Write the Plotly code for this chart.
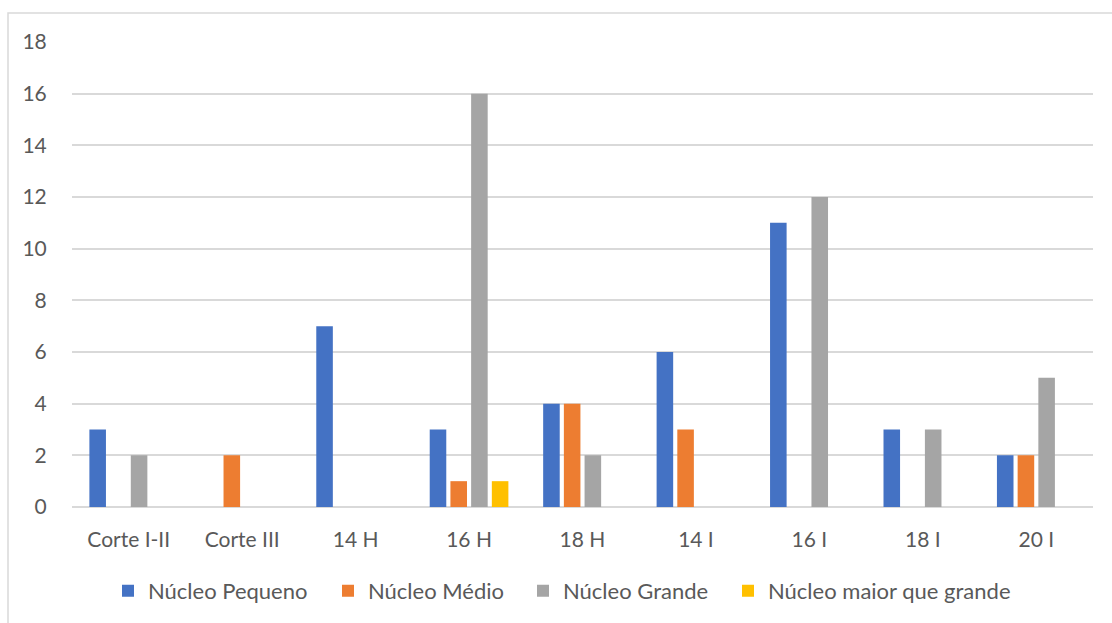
import plotly.graph_objects as go

# Categories and counts per nucleus size
categorias = ["Corte I-II", "Corte III", "14 H", "16 H", "18 H", "14 I", "16 I", "18 I", "20 I"]
nucleo_pequeno = [3, 0, 7, 3, 4, 6, 11, 3, 2]
nucleo_medio = [0, 2, 0, 1, 4, 3, 0, 0, 2]
nucleo_grande = [2, 0, 0, 16, 2, 0, 12, 3, 5]
nucleo_maior = [0, 0, 0, 1, 0, 0, 0, 0, 0]
y_ticks = [0, 2, 4, 6, 8, 10, 12, 14, 16, 18]

series = [
    ("Núcleo Pequeno", nucleo_pequeno, "#4472C4"),
    ("Núcleo Médio", nucleo_medio, "#ED7D31"),
    ("Núcleo Grande", nucleo_grande, "#A5A5A5"),
    ("Núcleo maior que grande", nucleo_maior, "#FFC000"),
]

W, H = 1112, 623
ml, mr, mt, mb = 72, 19, 42, 115
pw, ph = W - ml - mr, H - mt - mb

# Left edge (px) of each legend entry along the bottom row
legend_left_px = [108, 328, 523, 728]

fig = go.Figure()
legend_layouts = {}
for i, ((nome, valores, cor), lx) in enumerate(zip(series, legend_left_px)):
    key = "legend" if i == 0 else f"legend{i + 1}"
    fig.add_trace(go.Bar(
        name=nome, x=categorias, y=valores, legend=key,
        marker=dict(color=cor, line=dict(width=0)),
    ))
    legend_layouts[key] = dict(
        orientation="h", x=(lx - ml) / pw, xanchor="left",
        y=-0.178, yanchor="middle",
        font=dict(size=22, color="#595959"), itemwidth=30,
        bgcolor="rgba(0,0,0,0)",
    )

fig.update_layout(
    width=W, height=H,
    margin=dict(l=ml, r=mr, t=mt, b=mb),
    paper_bgcolor="white", plot_bgcolor="white",
    barmode="group", bargap=0.27, bargroupgap=0.2,
    font=dict(family="Lato, 'Open Sans', sans-serif", size=21, color="#595959"),
    showlegend=True,
    xaxis=dict(showgrid=False, showline=False, ticks="outside", ticklen=14,
               tickcolor="rgba(0,0,0,0)", tickfont=dict(size=21)),
    yaxis=dict(
        range=[0, 18], tickvals=y_ticks, showgrid=True, gridcolor="#D9D9D9",
        gridwidth=1.5, zeroline=True, zerolinecolor="#D9D9D9", zerolinewidth=1.5,
        showline=False, ticks="outside", ticklen=20, tickcolor="rgba(0,0,0,0)",
        tickfont=dict(size=21),
    ),
    **legend_layouts,
)

# Chart area border
fig.add_shape(
    type="rect", xref="paper", yref="paper",
    x0=(8 - ml) / pw, x1=(W + 5 - ml) / pw,
    y0=(H - mb - (H + 5)) / ph, y1=(H - mb - 13) / ph,
    line=dict(color="#D9D9D9", width=1.5), fillcolor="rgba(0,0,0,0)", layer="below",
)

fig.write_html("out.html")
